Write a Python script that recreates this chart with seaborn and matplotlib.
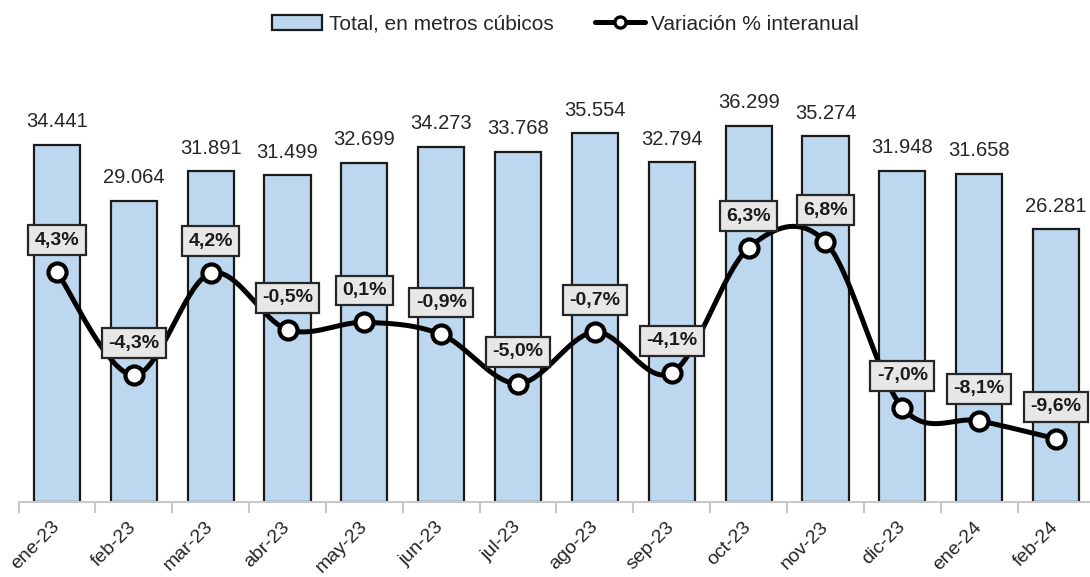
import numpy as np
import pandas as pd
import matplotlib
matplotlib.use("Agg")
import matplotlib.pyplot as plt
import seaborn as sns
from matplotlib.patches import Patch
from matplotlib.lines import Line2D

months = ["ene-23", "feb-23", "mar-23", "abr-23", "may-23", "jun-23", "jul-23",
          "ago-23", "sep-23", "oct-23", "nov-23", "dic-23", "ene-24", "feb-24"]
total = [34441, 29064, 31891, 31499, 32699, 34273, 33768,
         35554, 32794, 36299, 35274, 31948, 31658, 26281]
variacion = [4.3, -4.3, 4.2, -0.5, 0.1, -0.9, -5.0,
             -0.7, -4.1, 6.3, 6.8, -7.0, -8.1, -9.6]

sns.set_theme(style="white")
plt.rcParams['font.family'] = ['Liberation Sans', 'DejaVu Sans']

fig = plt.figure(figsize=(10.9, 5.77), dpi=100)
ax = fig.add_axes([18.5 / 1090, 1 - 502 / 577, (1094.5 - 18.5) / 1090, 442 / 577])

df = pd.DataFrame({"mes": months, "total": total, "var": variacion})
bar_color = "#BDD7EE"
sns.barplot(data=df, x="mes", y="total", color=bar_color, edgecolor="#1a1a1a",
            linewidth=1.6, width=0.6, saturation=1, ax=ax)
ax.set_xlim(-0.5, len(months) - 0.5)
ax.set_ylim(0, 42623)
ax.set_yticks([])
ax.set_xlabel("")
ax.set_ylabel("")
for s in ["top", "right", "left"]:
    ax.spines[s].set_visible(False)
ax.spines["bottom"].set_color("#C8C8C8")
ax.spines["bottom"].set_linewidth(1.5)
ax.set_xticks(range(len(months)))
ax.set_xticklabels(months, rotation=45, ha="right", va="center",
                   rotation_mode="anchor", fontsize=14)
ax.tick_params(axis="x", which="major", length=0, pad=16)
ax.set_xticks(np.arange(-0.5, len(months), 1), minor=True)
ax.tick_params(axis="x", which="minor", length=8, width=1.5, color="#C8C8C8", bottom=True)

for i, v in enumerate(total):
    ax.annotate(f"{v:,}".replace(",", "."), (i, v), xytext=(0, 16.5),
                textcoords="offset points", ha="center", va="center", fontsize=14.5)

ax2 = ax.twinx()
ax2.set_ylim(-14.87, 21.97)
ax2.set_yticks([])
for s in ["top", "right", "left", "bottom"]:
    ax2.spines[s].set_visible(False)

# smooth (Catmull-Rom) rendering of the line through the data points
xs = np.arange(len(variacion), dtype=float)
ys = np.array(variacion, dtype=float)
px = np.concatenate([[xs[0]], xs, [xs[-1]]])
py = np.concatenate([[ys[0]], ys, [ys[-1]]])
cx, cy = [], []
t = np.linspace(0, 1, 40)
for k in range(1, len(px) - 2):
    p0x, p1x, p2x, p3x = px[k - 1], px[k], px[k + 1], px[k + 2]
    p0y, p1y, p2y, p3y = py[k - 1], py[k], py[k + 1], py[k + 2]
    for a, b, c, d, out in [(p0x, p1x, p2x, p3x, cx), (p0y, p1y, p2y, p3y, cy)]:
        out.extend(0.5 * ((2 * b) + (-a + c) * t + (2 * a - 5 * b + 4 * c - d) * t ** 2
                          + (-a + 3 * b - 3 * c + d) * t ** 3))
curve = pd.DataFrame({"x": cx, "y": cy})
sns.lineplot(data=curve, x="x", y="y", color="black", linewidth=3.6, sort=False,
             ax=ax2, zorder=3)
ax2.plot(xs, ys, linestyle="none", marker="o", markersize=13, markerfacecolor="white",
         markeredgecolor="black", markeredgewidth=3.0, zorder=4)
ax2.set_xlabel("")
ax2.set_ylabel("")

for i, v in enumerate(variacion):
    ax2.annotate(f"{v:.1f}%".replace(".", ","), (i, v), xytext=(0, 23),
                 textcoords="offset points", ha="center", va="center", fontsize=14,
                 fontweight="bold", color="#1a1a1a", zorder=5,
                 bbox=dict(boxstyle="square,pad=0.33", facecolor="#E7E7E7",
                           edgecolor="#262626", linewidth=1.6))

handles = [Patch(facecolor=bar_color, edgecolor="#1a1a1a", linewidth=1.6),
           Line2D([0], [0], color="black", linewidth=3.6, marker="o", markersize=8,
                  markerfacecolor="white", markeredgecolor="black", markeredgewidth=2.4)]
fig.legend(handles, ["Total, en metros cúbicos", "Variación % interanual"],
           loc="center", bbox_to_anchor=(0.519, 1 - 24 / 577), ncol=2, frameon=False,
           fontsize=15, handlelength=2.4, handleheight=0.75, handletextpad=0.3,
           columnspacing=2.0)

fig.savefig("out.png", dpi=100)
